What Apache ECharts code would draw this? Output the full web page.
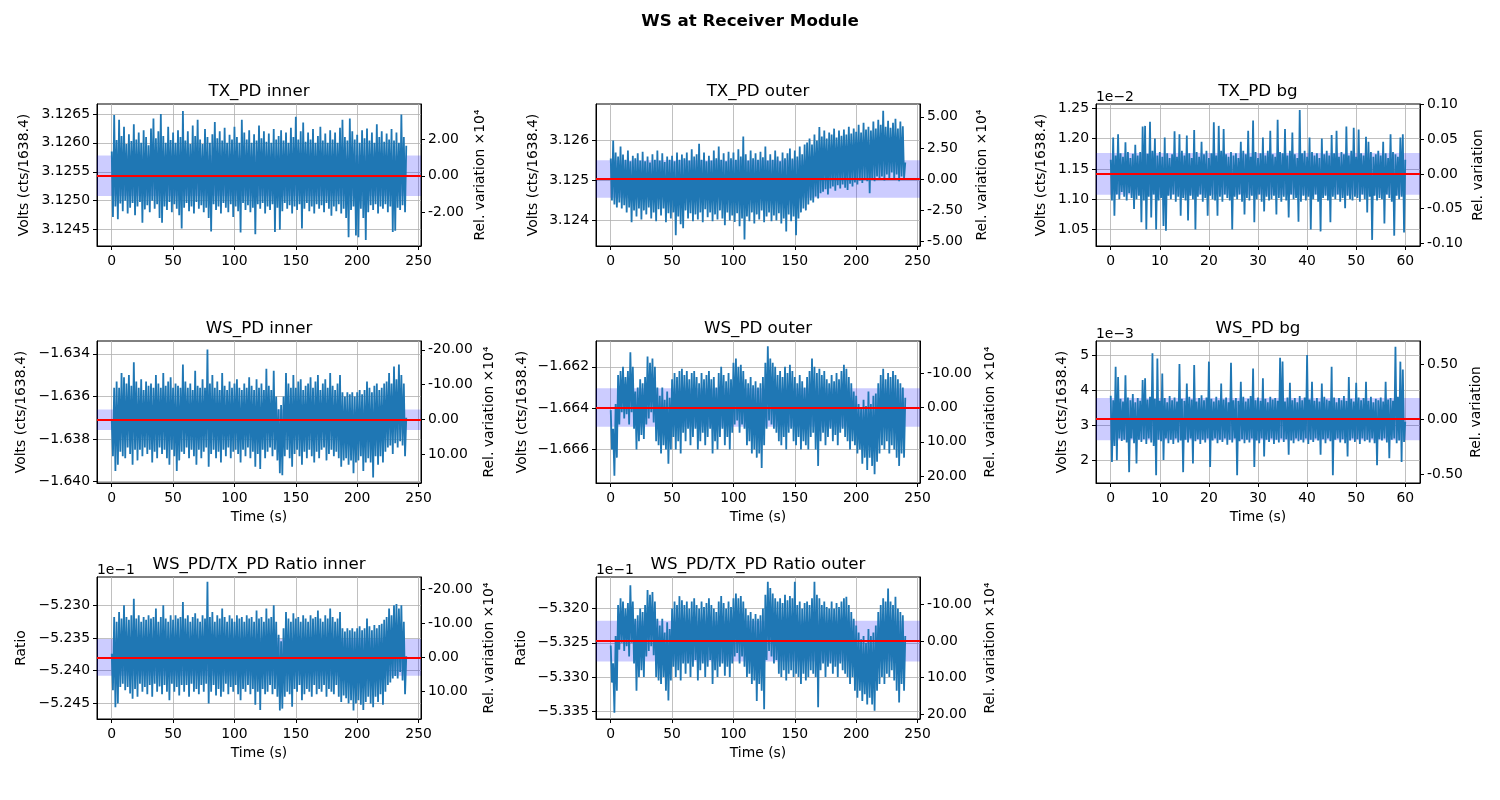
<!DOCTYPE html>
<html>
<head>
<meta charset="utf-8">
<script src="https://cdn.jsdelivr.net/npm/echarts@6.0.0/dist/echarts.min.js"></script>
<style>html,body{margin:0;padding:0;background:#fff}#chart{width:1500px;height:800px}</style>
</head>
<body>
<div id="chart"></div>
<script>
// ---------------- DATA ----------------
const figureTitle = 'WS at Receiver Module';
const panelTitles = ['TX_PD inner', 'TX_PD outer', 'TX_PD bg', 'WS_PD inner', 'WS_PD outer', 'WS_PD bg',
  'WS_PD/TX_PD Ratio inner', 'WS_PD/TX_PD Ratio outer'];
const leftNames = ['Volts (cts/1638.4)', 'Volts (cts/1638.4)', 'Volts (cts/1638.4)', 'Volts (cts/1638.4)',
  'Volts (cts/1638.4)', 'Volts (cts/1638.4)', 'Ratio', 'Ratio'];
const rightNames = ['Rel. variation ×10⁴', 'Rel. variation ×10⁴', 'Rel. variation', 'Rel. variation ×10⁴',
  'Rel. variation ×10⁴', 'Rel. variation', 'Rel. variation ×10⁴', 'Rel. variation ×10⁴'];
const xName = 'Time (s)';
// seconds between samples
const sampleStep = [1, 1, 0.25, 1, 1, 0.25, 1, 1];
// mean (red line) and std (band half width)
const meanValues = [3.12543, 3.125035, 0.011418, -1.63709, -1.66397, 0.003175, -0.523796, -0.532475];
const stdValues = [0.00035, 0.00047, 0.000345, 0.00048, 0.000934, 0.00061, 0.000281, 0.000298];
const relFactor = [1e4, 1e4, 1, 1e4, 1e4, 1, 1e4, 1e4];
// axis limits
const yMinValues = [3.124217, 3.123357, 0.010229, -1.640061, -1.667629, 0.001337, -0.524739, -0.533611];
const yMaxValues = [3.126672, 3.126918, 0.012571, -1.633401, -1.660751, 0.005424, -0.522566, -0.531541];
const xMinValues = [-12, -12, -3, -12, -12, -3, -12, -12];
const xMaxValues = [252, 252, 63, 252, 252, 63, 252, 252];
// tick values
const xTicksLong = [0, 50, 100, 150, 200, 250];
const xTicksShort = [0, 10, 20, 30, 40, 50, 60];
const leftTicks = [
  [3.1245, 3.125, 3.1255, 3.126, 3.1265],
  [3.124, 3.125, 3.126],
  [0.0105, 0.011, 0.0115, 0.012, 0.0125],
  [-1.640, -1.638, -1.636, -1.634],
  [-1.666, -1.664, -1.662],
  [0.002, 0.003, 0.004, 0.005],
  [-0.5245, -0.524, -0.5235, -0.523],
  [-0.5335, -0.533, -0.5325, -0.532]
];
const leftExponent = [0, 0, -2, 0, 0, -3, -1, -1];
const leftDecimals = [4, 3, 2, 3, 3, 0, 3, 3];
const rightTicks = [
  [-2, 0, 2],
  [-5, -2.5, 0, 2.5, 5],
  [-0.1, -0.05, 0, 0.05, 0.1],
  [-20, -10, 0, 10],
  [-10, 0, 10, 20],
  [-0.5, 0, 0.5],
  [-20, -10, 0, 10],
  [-10, 0, 10, 20]
];

const txInner = [
3.12585,3.12472,3.12648,3.12490,3.12605,3.12468,3.12640,3.12495,3.12612,3.12482,
3.12628,3.12500,3.12598,3.12478,3.12615,3.12488,3.12603,3.12496,3.12632,3.12475,
3.12606,3.12490,3.12618,3.12498,3.12600,3.12462,3.12622,3.12485,3.12610,3.12492,
3.12596,3.12480,3.12625,3.12500,3.12642,3.12486,3.12608,3.12494,3.12620,3.12470,
3.12650,3.12462,3.12612,3.12490,3.12600,3.12484,3.12628,3.12498,3.12605,3.12480,
3.12618,3.12494,3.12600,3.12486,3.12622,3.12475,3.12610,3.12452,3.12655,3.12488,
3.12604,3.12496,3.12620,3.12482,3.12598,3.12490,3.12630,3.12478,3.12612,3.12498,
3.12640,3.12486,3.12606,3.12492,3.12598,3.12480,3.12624,3.12488,3.12610,3.12470,
3.12600,3.12447,3.12615,3.12494,3.12636,3.12484,3.12608,3.12490,3.12620,3.12478,
3.12604,3.12496,3.12626,3.12488,3.12600,3.12480,3.12614,3.12494,3.12606,3.12472,
3.12628,3.12490,3.12610,3.12482,3.12600,3.12445,3.12640,3.12496,3.12618,3.12484,
3.12606,3.12492,3.12622,3.12480,3.12600,3.12488,3.12615,3.12442,3.12604,3.12494,
3.12630,3.12486,3.12608,3.12496,3.12620,3.12478,3.12602,3.12490,3.12616,3.12484,
3.12600,3.12494,3.12624,3.12446,3.12606,3.12488,3.12612,3.12450,3.12622,3.12482,
3.12604,3.12496,3.12618,3.12486,3.12600,3.12492,3.12626,3.12478,3.12610,3.12490,
3.12645,3.12484,3.12606,3.12494,3.12620,3.12452,3.12635,3.12486,3.12602,3.12496,
3.12618,3.12482,3.12606,3.12490,3.12624,3.12478,3.12600,3.12494,3.12612,3.12486,
3.12628,3.12492,3.12604,3.12480,3.12616,3.12496,3.12600,3.12486,3.12622,3.12474,
3.12606,3.12490,3.12618,3.12482,3.12600,3.12494,3.12626,3.12478,3.12640,3.12486,
3.12610,3.12470,3.12604,3.12437,3.12642,3.12484,3.12620,3.12490,3.12606,3.12440,
3.12614,3.12437,3.12600,3.12486,3.12622,3.12470,3.12608,3.12432,3.12625,3.12480,
3.12604,3.12492,3.12618,3.12484,3.12600,3.12494,3.12632,3.12478,3.12610,3.12490,
3.12620,3.12486,3.12602,3.12494,3.12616,3.12480,3.12606,3.12490,3.12624,3.12446,
3.12604,3.12448,3.12618,3.12488,3.12600,3.12484,3.12649,3.12492,3.12610,3.12480,
3.12595];

const txOuter = [
3.12555,3.12450,3.12600,3.12440,3.12570,3.12432,3.12560,3.12445,3.12585,3.12430,
3.12565,3.12438,3.12552,3.12420,3.12575,3.12432,3.12548,3.12395,3.12562,3.12425,
3.12556,3.12410,3.12568,3.12430,3.12550,3.12402,3.12572,3.12425,3.12548,3.12415,
3.12560,3.12432,3.12545,3.12405,3.12566,3.12420,3.12552,3.12398,3.12575,3.12428,
3.12550,3.12412,3.12568,3.12430,3.12546,3.12395,3.12560,3.12418,3.12552,3.12405,
3.12562,3.12420,3.12548,3.12363,3.12570,3.12410,3.12552,3.12390,3.12565,3.12380,
3.12556,3.12425,3.12570,3.12405,3.12550,3.12418,3.12578,3.12398,3.12560,3.12415,
3.12566,3.12402,3.12592,3.12420,3.12552,3.12395,3.12570,3.12428,3.12548,3.12408,
3.12562,3.12420,3.12550,3.12398,3.12575,3.12415,3.12556,3.12402,3.12585,3.12425,
3.12552,3.12405,3.12568,3.12388,3.12548,3.12420,3.12572,3.12400,3.12556,3.12412,
3.12570,3.12396,3.12552,3.12418,3.12578,3.12385,3.12560,3.12405,3.12610,3.12352,
3.12566,3.12410,3.12550,3.12398,3.12575,3.12420,3.12556,3.12392,3.12568,3.12415,
3.12552,3.12402,3.12572,3.12425,3.12558,3.12395,3.12585,3.12410,3.12550,3.12420,
3.12566,3.12398,3.12552,3.12412,3.12575,3.12400,3.12560,3.12418,3.12548,3.12392,
3.12570,3.12405,3.12556,3.12372,3.12568,3.12415,3.12580,3.12398,3.12555,3.12410,
3.12575,3.12363,3.12560,3.12405,3.12585,3.12420,3.12566,3.12430,3.12590,3.12425,
3.12595,3.12440,3.12605,3.12450,3.12590,3.12445,3.12615,3.12460,3.12600,3.12455,
3.12634,3.12468,3.12610,3.12472,3.12625,3.12478,3.12605,3.12465,3.12620,3.12480,
3.12615,3.12485,3.12630,3.12474,3.12608,3.12488,3.12625,3.12480,3.12612,3.12490,
3.12628,3.12482,3.12615,3.12476,3.12635,3.12492,3.12618,3.12485,3.12630,3.12495,
3.12622,3.12490,3.12640,3.12500,3.12620,3.12494,3.12645,3.12505,3.12628,3.12498,
3.12635,3.12468,3.12625,3.12505,3.12648,3.12498,3.12630,3.12510,3.12652,3.12502,
3.12640,3.12510,3.12675,3.12500,3.12635,3.12515,3.12650,3.12505,3.12632,3.12520,
3.12645,3.12502,3.12655,3.12515,3.12630,3.12498,3.12648,3.12510,3.12636,3.12505,
3.12545];

const txBg = [
0.01165,0.01098,0.01202,0.01073,0.01172,0.01108,0.01207,0.01100,0.01176,0.01112,
0.01170,0.01104,0.01194,0.01098,0.01178,0.01110,0.01168,0.01102,0.01175,0.01084,
0.01190,0.01100,0.01172,0.01106,0.01178,0.01062,0.01220,0.01098,0.01221,0.01050,
0.01175,0.01104,0.01228,0.01070,0.01180,0.01108,0.01200,0.01050,0.01172,0.01098,
0.01178,0.01102,0.01170,0.01056,0.01202,0.01048,0.01176,0.01106,0.01168,0.01100,
0.01174,0.01108,0.01212,0.01096,0.01170,0.01104,0.01207,0.01073,0.01180,0.01102,
0.01172,0.01098,0.01205,0.01065,0.01176,0.01106,0.01168,0.01100,0.01214,0.01050,
0.01178,0.01104,0.01170,0.01108,0.01195,0.01096,0.01174,0.01102,0.01180,0.01073,
0.01168,0.01106,0.01176,0.01100,0.01227,0.01098,0.01172,0.01073,0.01221,0.01104,
0.01180,0.01096,0.01216,0.01108,0.01174,0.01102,0.01170,0.01098,0.01178,0.01050,
0.01172,0.01104,0.01176,0.01100,0.01168,0.01108,0.01195,0.01096,0.01180,0.01075,
0.01174,0.01102,0.01213,0.01098,0.01170,0.01106,0.01230,0.01062,0.01178,0.01100,
0.01168,0.01108,0.01176,0.01096,0.01202,0.01080,0.01172,0.01104,0.01180,0.01098,
0.01213,0.01100,0.01174,0.01106,0.01170,0.01075,0.01231,0.01102,0.01178,0.01096,
0.01176,0.01104,0.01216,0.01098,0.01172,0.01070,0.01180,0.01108,0.01210,0.01100,
0.01174,0.01102,0.01168,0.01063,0.01247,0.01096,0.01176,0.01106,0.01180,0.01098,
0.01170,0.01104,0.01202,0.01050,0.01178,0.01100,0.01172,0.01108,0.01176,0.01096,
0.01168,0.01047,0.01200,0.01102,0.01174,0.01106,0.01180,0.01098,0.01172,0.01062,
0.01206,0.01104,0.01176,0.01100,0.01213,0.01108,0.01170,0.01096,0.01178,0.01102,
0.01174,0.01085,0.01220,0.01106,0.01172,0.01100,0.01180,0.01098,0.01218,0.01104,
0.01170,0.01102,0.01215,0.01096,0.01176,0.01108,0.01172,0.01100,0.01203,0.01078,
0.01195,0.01104,0.01178,0.01033,0.01170,0.01106,0.01174,0.01098,0.01180,0.01102,
0.01172,0.01100,0.01195,0.01060,0.01176,0.01108,0.01168,0.01102,0.01207,0.01096,
0.01178,0.01040,0.01174,0.01106,0.01170,0.01100,0.01202,0.01104,0.01207,0.01045,
0.01165];

const wsInner = [
-1.63710,-1.63880,-1.63560,-1.63950,-1.63530,-1.63920,-1.63560,-1.63860,-1.63490,-1.63880,
-1.63510,-1.63890,-1.63540,-1.63840,-1.63500,-1.63870,-1.63550,-1.63920,-1.63440,-1.63850,
-1.63530,-1.63900,-1.63560,-1.63850,-1.63520,-1.63880,-1.63570,-1.63840,-1.63530,-1.63870,
-1.63550,-1.63850,-1.63540,-1.63910,-1.63560,-1.63860,-1.63500,-1.63890,-1.63540,-1.63840,
-1.63560,-1.63870,-1.63490,-1.63850,-1.63550,-1.63890,-1.63530,-1.63920,-1.63510,-1.63850,
-1.63560,-1.63880,-1.63540,-1.63950,-1.63550,-1.63900,-1.63560,-1.63860,-1.63450,-1.63870,
-1.63530,-1.63840,-1.63560,-1.63890,-1.63540,-1.63850,-1.63570,-1.63880,-1.63480,-1.63920,
-1.63550,-1.63850,-1.63560,-1.63890,-1.63520,-1.63860,-1.63560,-1.63840,-1.63380,-1.63930,
-1.63540,-1.63870,-1.63500,-1.63850,-1.63560,-1.63890,-1.63530,-1.63860,-1.63570,-1.63910,
-1.63490,-1.63850,-1.63550,-1.63880,-1.63570,-1.63840,-1.63530,-1.63890,-1.63560,-1.63860,
-1.63540,-1.63850,-1.63520,-1.63870,-1.63560,-1.63910,-1.63570,-1.63850,-1.63540,-1.63880,
-1.63560,-1.63840,-1.63510,-1.63890,-1.63550,-1.63860,-1.63570,-1.63930,-1.63520,-1.63870,
-1.63560,-1.63940,-1.63540,-1.63850,-1.63570,-1.63890,-1.63470,-1.63860,-1.63550,-1.63840,
-1.63570,-1.63880,-1.63480,-1.63850,-1.63600,-1.63900,-1.63660,-1.63960,-1.63640,-1.63970,
-1.63600,-1.63880,-1.63490,-1.63850,-1.63540,-1.63890,-1.63560,-1.63930,-1.63500,-1.63870,
-1.63560,-1.63850,-1.63530,-1.63880,-1.63520,-1.63920,-1.63570,-1.63860,-1.63550,-1.63890,
-1.63540,-1.63850,-1.63510,-1.63880,-1.63560,-1.63910,-1.63530,-1.63860,-1.63500,-1.63890,
-1.63570,-1.63850,-1.63540,-1.63840,-1.63520,-1.63900,-1.63560,-1.63870,-1.63490,-1.63850,
-1.63550,-1.63880,-1.63570,-1.63860,-1.63540,-1.63890,-1.63500,-1.63930,-1.63580,-1.63900,
-1.63600,-1.63890,-1.63580,-1.63920,-1.63590,-1.63900,-1.63580,-1.63960,-1.63600,-1.63910,
-1.63580,-1.63900,-1.63570,-1.63880,-1.63590,-1.63950,-1.63570,-1.63910,-1.63530,-1.63890,
-1.63560,-1.63910,-1.63580,-1.63980,-1.63550,-1.63880,-1.63540,-1.63920,-1.63570,-1.63880,
-1.63560,-1.63910,-1.63540,-1.63860,-1.63530,-1.63840,-1.63490,-1.63830,-1.63540,-1.63870,
-1.63460,-1.63820,-1.63520,-1.63840,-1.63450,-1.63810,-1.63500,-1.63830,-1.63540,-1.63880,
-1.63700];

const wsOuter = [
-1.66410,-1.66600,-1.66500,-1.66728,-1.66380,-1.66640,-1.66240,-1.66480,-1.66220,-1.66420,
-1.66200,-1.66450,-1.66250,-1.66430,-1.66220,-1.66480,-1.66130,-1.66420,-1.66200,-1.66500,
-1.66320,-1.66600,-1.66300,-1.66560,-1.66260,-1.66530,-1.66280,-1.66550,-1.66250,-1.66480,
-1.66150,-1.66450,-1.66180,-1.66420,-1.66160,-1.66470,-1.66200,-1.66560,-1.66300,-1.66580,
-1.66340,-1.66620,-1.66300,-1.66580,-1.66360,-1.66600,-1.66320,-1.66670,-1.66350,-1.66600,
-1.66260,-1.66540,-1.66230,-1.66600,-1.66250,-1.66560,-1.66220,-1.66620,-1.66210,-1.66520,
-1.66240,-1.66560,-1.66220,-1.66500,-1.66260,-1.66580,-1.66230,-1.66540,-1.66220,-1.66500,
-1.66250,-1.66600,-1.66280,-1.66560,-1.66230,-1.66520,-1.66260,-1.66580,-1.66240,-1.66540,
-1.66220,-1.66500,-1.66260,-1.66620,-1.66250,-1.66560,-1.66300,-1.66600,-1.66230,-1.66540,
-1.66200,-1.66500,-1.66240,-1.66580,-1.66270,-1.66540,-1.66230,-1.66600,-1.66260,-1.66520,
-1.66180,-1.66480,-1.66160,-1.66460,-1.66200,-1.66520,-1.66190,-1.66480,-1.66220,-1.66500,
-1.66260,-1.66580,-1.66280,-1.66560,-1.66250,-1.66620,-1.66290,-1.66600,-1.66270,-1.66640,
-1.66300,-1.66620,-1.66280,-1.66690,-1.66250,-1.66580,-1.66180,-1.66500,-1.66100,-1.66460,
-1.66160,-1.66480,-1.66180,-1.66500,-1.66200,-1.66520,-1.66240,-1.66560,-1.66220,-1.66580,
-1.66250,-1.66540,-1.66200,-1.66600,-1.66230,-1.66520,-1.66190,-1.66500,-1.66220,-1.66560,
-1.66250,-1.66580,-1.66280,-1.66540,-1.66240,-1.66600,-1.66270,-1.66560,-1.66300,-1.66580,
-1.66250,-1.66600,-1.66220,-1.66540,-1.66160,-1.66520,-1.66200,-1.66600,-1.66230,-1.66680,
-1.66210,-1.66560,-1.66240,-1.66520,-1.66220,-1.66580,-1.66260,-1.66540,-1.66280,-1.66500,
-1.66240,-1.66560,-1.66270,-1.66530,-1.66230,-1.66580,-1.66260,-1.66520,-1.66220,-1.66500,
-1.66190,-1.66540,-1.66210,-1.66560,-1.66250,-1.66600,-1.66280,-1.66560,-1.66320,-1.66580,
-1.66340,-1.66620,-1.66380,-1.66600,-1.66400,-1.66670,-1.66360,-1.66640,-1.66390,-1.66700,
-1.66320,-1.66640,-1.66380,-1.66680,-1.66340,-1.66720,-1.66330,-1.66660,-1.66280,-1.66620,
-1.66240,-1.66580,-1.66210,-1.66600,-1.66260,-1.66560,-1.66230,-1.66620,-1.66250,-1.66580,
-1.66220,-1.66600,-1.66240,-1.66640,-1.66260,-1.66680,-1.66280,-1.66620,-1.66300,-1.66640,
-1.66350];

const wsBg = [
0.00385,0.00194,0.00372,0.00240,0.00468,0.00199,0.00439,0.00262,0.00376,0.00255,
0.00368,0.00258,0.00444,0.00250,0.00380,0.00165,0.00372,0.00262,0.00390,0.00248,
0.00366,0.00190,0.00378,0.00258,0.00370,0.00252,0.00430,0.00260,0.00435,0.00246,
0.00374,0.00262,0.00382,0.00250,0.00507,0.00240,0.00376,0.00156,0.00492,0.00258,
0.00370,0.00254,0.00449,0.00200,0.00378,0.00262,0.00366,0.00248,0.00384,0.00258,
0.00372,0.00246,0.00380,0.00262,0.00368,0.00250,0.00476,0.00256,0.00376,0.00165,
0.00370,0.00258,0.00420,0.00250,0.00382,0.00262,0.00374,0.00190,0.00473,0.00254,
0.00368,0.00260,0.00378,0.00246,0.00386,0.00258,0.00372,0.00250,0.00380,0.00262,
0.00483,0.00180,0.00376,0.00256,0.00368,0.00262,0.00382,0.00248,0.00372,0.00258,
0.00420,0.00252,0.00374,0.00262,0.00380,0.00244,0.00366,0.00258,0.00480,0.00250,
0.00372,0.00262,0.00378,0.00156,0.00370,0.00254,0.00425,0.00260,0.00382,0.00248,
0.00368,0.00258,0.00376,0.00250,0.00384,0.00262,0.00463,0.00180,0.00372,0.00256,
0.00380,0.00248,0.00370,0.00262,0.00435,0.00210,0.00376,0.00258,0.00366,0.00252,
0.00382,0.00262,0.00374,0.00246,0.00378,0.00258,0.00370,0.00250,0.00494,0.00262,
0.00483,0.00252,0.00368,0.00260,0.00380,0.00215,0.00422,0.00256,0.00372,0.00248,
0.00378,0.00262,0.00366,0.00254,0.00384,0.00258,0.00372,0.00250,0.00380,0.00262,
0.00502,0.00246,0.00374,0.00258,0.00425,0.00252,0.00370,0.00262,0.00378,0.00256,
0.00368,0.00215,0.00420,0.00260,0.00382,0.00248,0.00374,0.00262,0.00370,0.00254,
0.00468,0.00156,0.00380,0.00258,0.00366,0.00262,0.00378,0.00250,0.00372,0.00260,
0.00384,0.00248,0.00370,0.00210,0.00439,0.00256,0.00376,0.00262,0.00368,0.00252,
0.00422,0.00260,0.00380,0.00246,0.00372,0.00262,0.00378,0.00254,0.00425,0.00258,
0.00370,0.00250,0.00382,0.00262,0.00366,0.00248,0.00376,0.00185,0.00372,0.00260,
0.00380,0.00256,0.00368,0.00262,0.00425,0.00250,0.00374,0.00205,0.00378,0.00258,
0.00370,0.00262,0.00526,0.00248,0.00382,0.00256,0.00483,0.00194,0.00460,0.00252,
0.00310];

const ratioInner = [
-0.52374,-0.52430,-0.52318,-0.52456,-0.52325,-0.52450,-0.52310,-0.52425,-0.52320,-0.52420,
-0.52300,-0.52430,-0.52318,-0.52425,-0.52322,-0.52435,-0.52315,-0.52443,-0.52290,-0.52428,
-0.52320,-0.52440,-0.52315,-0.52420,-0.52325,-0.52432,-0.52318,-0.52425,-0.52322,-0.52436,
-0.52315,-0.52422,-0.52320,-0.52440,-0.52318,-0.52420,-0.52305,-0.52432,-0.52325,-0.52424,
-0.52318,-0.52436,-0.52300,-0.52422,-0.52320,-0.52432,-0.52325,-0.52445,-0.52315,-0.52420,
-0.52322,-0.52432,-0.52315,-0.52425,-0.52320,-0.52438,-0.52318,-0.52422,-0.52295,-0.52432,
-0.52320,-0.52422,-0.52315,-0.52440,-0.52325,-0.52420,-0.52318,-0.52432,-0.52312,-0.52428,
-0.52320,-0.52436,-0.52325,-0.52422,-0.52315,-0.52432,-0.52320,-0.52420,-0.52264,-0.52450,
-0.52318,-0.52432,-0.52310,-0.52422,-0.52325,-0.52438,-0.52315,-0.52428,-0.52320,-0.52440,
-0.52305,-0.52432,-0.52318,-0.52420,-0.52325,-0.52436,-0.52315,-0.52425,-0.52320,-0.52432,
-0.52325,-0.52422,-0.52315,-0.52436,-0.52320,-0.52445,-0.52318,-0.52428,-0.52325,-0.52432,
-0.52315,-0.52422,-0.52320,-0.52436,-0.52318,-0.52428,-0.52325,-0.52452,-0.52308,-0.52432,
-0.52320,-0.52460,-0.52318,-0.52428,-0.52325,-0.52436,-0.52305,-0.52432,-0.52320,-0.52422,
-0.52318,-0.52436,-0.52300,-0.52428,-0.52325,-0.52440,-0.52345,-0.52461,-0.52355,-0.52458,
-0.52335,-0.52440,-0.52310,-0.52432,-0.52320,-0.52436,-0.52325,-0.52455,-0.52312,-0.52428,
-0.52320,-0.52432,-0.52318,-0.52422,-0.52325,-0.52445,-0.52315,-0.52436,-0.52320,-0.52428,
-0.52325,-0.52432,-0.52315,-0.52440,-0.52320,-0.52422,-0.52318,-0.52436,-0.52308,-0.52428,
-0.52320,-0.52432,-0.52325,-0.52422,-0.52315,-0.52440,-0.52320,-0.52428,-0.52305,-0.52432,
-0.52318,-0.52436,-0.52325,-0.52422,-0.52320,-0.52440,-0.52310,-0.52448,-0.52335,-0.52438,
-0.52340,-0.52442,-0.52335,-0.52450,-0.52338,-0.52445,-0.52335,-0.52461,-0.52340,-0.52450,
-0.52335,-0.52445,-0.52332,-0.52452,-0.52338,-0.52460,-0.52335,-0.52448,-0.52320,-0.52440,
-0.52332,-0.52450,-0.52338,-0.52456,-0.52330,-0.52440,-0.52335,-0.52448,-0.52330,-0.52436,
-0.52328,-0.52452,-0.52322,-0.52432,-0.52318,-0.52422,-0.52305,-0.52418,-0.52315,-0.52412,
-0.52300,-0.52408,-0.52298,-0.52412,-0.52305,-0.52402,-0.52300,-0.52415,-0.52325,-0.52436,
-0.52378];

const ratioOuter = [
-0.53254,-0.53308,-0.53280,-0.53352,-0.53240,-0.53320,-0.53195,-0.53260,-0.53185,-0.53250,
-0.53190,-0.53262,-0.53200,-0.53255,-0.53192,-0.53270,-0.53166,-0.53250,-0.53190,-0.53280,
-0.53215,-0.53320,-0.53210,-0.53300,-0.53200,-0.53290,-0.53205,-0.53300,-0.53195,-0.53270,
-0.53173,-0.53262,-0.53180,-0.53255,-0.53176,-0.53268,-0.53190,-0.53300,-0.53215,-0.53305,
-0.53225,-0.53310,-0.53215,-0.53300,-0.53235,-0.53320,-0.53220,-0.53334,-0.53230,-0.53305,
-0.53200,-0.53285,-0.53190,-0.53300,-0.53195,-0.53290,-0.53182,-0.53305,-0.53188,-0.53280,
-0.53195,-0.53295,-0.53190,-0.53280,-0.53200,-0.53300,-0.53190,-0.53285,-0.53185,-0.53275,
-0.53195,-0.53305,-0.53200,-0.53290,-0.53190,-0.53280,-0.53198,-0.53300,-0.53192,-0.53285,
-0.53185,-0.53275,-0.53195,-0.53310,-0.53200,-0.53290,-0.53205,-0.53300,-0.53190,-0.53285,
-0.53182,-0.53280,-0.53192,-0.53298,-0.53200,-0.53285,-0.53190,-0.53300,-0.53198,-0.53280,
-0.53185,-0.53270,-0.53178,-0.53265,-0.53185,-0.53280,-0.53182,-0.53270,-0.53190,-0.53285,
-0.53200,-0.53300,-0.53210,-0.53295,-0.53205,-0.53310,-0.53215,-0.53305,-0.53208,-0.53335,
-0.53215,-0.53310,-0.53210,-0.53320,-0.53200,-0.53347,-0.53180,-0.53275,-0.53161,-0.53262,
-0.53170,-0.53270,-0.53178,-0.53280,-0.53185,-0.53275,-0.53190,-0.53295,-0.53185,-0.53300,
-0.53192,-0.53290,-0.53180,-0.53305,-0.53188,-0.53295,-0.53182,-0.53290,-0.53185,-0.53300,
-0.53161,-0.53295,-0.53195,-0.53300,-0.53190,-0.53310,-0.53200,-0.53295,-0.53192,-0.53305,
-0.53190,-0.53300,-0.53195,-0.53290,-0.53185,-0.53295,-0.53161,-0.53300,-0.53180,-0.53344,
-0.53185,-0.53290,-0.53195,-0.53280,-0.53190,-0.53300,-0.53198,-0.53285,-0.53200,-0.53280,
-0.53190,-0.53295,-0.53200,-0.53285,-0.53192,-0.53300,-0.53198,-0.53280,-0.53190,-0.53290,
-0.53185,-0.53295,-0.53183,-0.53300,-0.53195,-0.53310,-0.53205,-0.53300,-0.53215,-0.53320,
-0.53225,-0.53330,-0.53235,-0.53320,-0.53245,-0.53335,-0.53240,-0.53325,-0.53250,-0.53340,
-0.53230,-0.53330,-0.53240,-0.53340,-0.53235,-0.53349,-0.53225,-0.53320,-0.53205,-0.53310,
-0.53195,-0.53300,-0.53185,-0.53310,-0.53190,-0.53295,-0.53171,-0.53300,-0.53190,-0.53290,
-0.53195,-0.53305,-0.53183,-0.53320,-0.53200,-0.53337,-0.53205,-0.53310,-0.53210,-0.53320,
-0.53240];

const seriesValues = [txInner, txOuter, txBg, wsInner, wsOuter, wsBg, ratioInner, ratioOuter];

// ---------------- LAYOUT / STYLE ----------------
const FONT = '"DejaVu Sans", "Liberation Sans", sans-serif';
const colLeft = [97, 596, 1096];
const rowTop = [104, 341, 577];
const W = 324, H = 142;
const leftNameGap = [66, 56, 48, 69, 67, 27, 69, 68];
const rightNameGap = [52, 55, 51, 61, 63, 49, 61, 63];
const TICK_FS = 13.9, LABEL_FS = 13.9, TITLE_FS = 16.7;

const grids = [], xAxes = [], yAxes = [], series = [], graphics = [];

graphics.push({
  type: 'text', x: 750, y: 22, silent: true,
  style: { text: figureTitle, font: 'bold ' + TITLE_FS + 'px ' + FONT, fill: '#000',
    align: 'center', verticalAlign: 'middle', textAlign: 'center', textVerticalAlign: 'middle' }
});

function leftFmt(k) {
  return function (v) {
    const s = (v / Math.pow(10, leftExponent[k])).toFixed(leftDecimals[k]);
    return s.replace('-', '\u2212');
  };
}
function rightFmt(v) {
  if (Math.abs(v) < 1e-12) v = 0;
  return v.toFixed(2);
}

for (let k = 0; k < 8; k++) {
  const col = k % 3, row = Math.floor(k / 3);
  const left = colLeft[col], top = rowTop[row];
  const m = meanValues[k], s = stdValues[k], f = relFactor[k];
  const relLo = (yMinValues[k] - m) / m * f;
  const relHi = (yMaxValues[k] - m) / m * f;
  const xTicks = xMaxValues[k] > 100 ? xTicksLong : xTicksShort;

  grids.push({ left: left, top: top, width: W, height: H, show: true,
    borderColor: '#000', borderWidth: 1, backgroundColor: 'transparent' });

  xAxes.push({
    type: 'value', gridIndex: k, min: xMinValues[k], max: xMaxValues[k],
    axisLine: { show: true, onZero: false, lineStyle: { color: '#000', width: 1 } },
    axisTick: { show: true, length: 4, customValues: xTicks, lineStyle: { color: '#000' } },
    axisLabel: { customValues: xTicks, margin: 8, color: '#000', fontSize: TICK_FS, fontFamily: FONT },
    splitLine: { show: true, lineStyle: { color: '#b0b0b0', width: 0.8 } },
    name: row > 0 ? xName : '', nameLocation: 'middle', nameGap: 27,
    nameTextStyle: { color: '#000', fontSize: LABEL_FS, fontFamily: FONT }
  });

  yAxes.push({
    type: 'value', gridIndex: k, position: 'left', min: yMinValues[k], max: yMaxValues[k],
    axisLine: { show: true, onZero: false, lineStyle: { color: '#000', width: 1 } },
    axisTick: { show: true, length: 4, customValues: leftTicks[k], lineStyle: { color: '#000' } },
    axisLabel: { customValues: leftTicks[k], formatter: leftFmt(k), margin: 7, color: '#000',
      fontSize: TICK_FS, fontFamily: FONT },
    splitLine: { show: true, lineStyle: { color: '#b0b0b0', width: 0.8 } },
    name: leftNames[k], nameLocation: 'middle', nameGap: leftNameGap[k], nameRotate: 90,
    nameTextStyle: { color: '#000', fontSize: LABEL_FS, fontFamily: FONT }
  });

  yAxes.push({
    type: 'value', gridIndex: k, position: 'right',
    min: Math.min(relLo, relHi), max: Math.max(relLo, relHi), inverse: m < 0,
    axisLine: { show: true, onZero: false, lineStyle: { color: '#000', width: 1 } },
    axisTick: { show: true, length: 4, customValues: rightTicks[k], lineStyle: { color: '#000' } },
    axisLabel: { customValues: rightTicks[k], formatter: rightFmt, margin: 7, color: '#000',
      fontSize: TICK_FS, fontFamily: FONT },
    splitLine: { show: false },
    name: rightNames[k], nameLocation: 'middle', nameGap: rightNameGap[k], nameRotate: 90,
    nameTextStyle: { color: '#000', fontSize: LABEL_FS, fontFamily: FONT }
  });

  const dt = sampleStep[k];
  const pts = seriesValues[k].map((v, i) => [i * dt, v]);

  series.push({
    type: 'line', xAxisIndex: k, yAxisIndex: 2 * k, data: pts,
    showSymbol: false, symbol: 'none', silent: true, z: 2,
    lineStyle: { color: '#1f77b4', width: 1.8, join: 'bevel' },
    markArea: { silent: true, z: 1, itemStyle: { color: 'rgba(0,0,255,0.2)', borderWidth: 0 },
      label: { show: false },
      data: [[{ yAxis: m - s }, { yAxis: m + s }]] },
    markLine: { silent: true, z: 5, precision: 12, symbol: ['none', 'none'], label: { show: false },
      lineStyle: { color: '#ff0000', width: 2, type: 'solid' },
      data: [{ yAxis: m }] }
  });

  graphics.push({
    type: 'text', x: left + W / 2, y: top - 12, silent: true,
    style: { text: panelTitles[k], font: TITLE_FS + 'px ' + FONT, fill: '#000',
      align: 'center', verticalAlign: 'middle', textAlign: 'center', textVerticalAlign: 'middle' }
  });
  if (leftExponent[k] !== 0) {
    graphics.push({
      type: 'text', x: left, y: top, silent: true,
      style: { text: '1e\u2212' + (-leftExponent[k]), font: TICK_FS + 'px ' + FONT, fill: '#000',
        align: 'left', verticalAlign: 'bottom', textAlign: 'left', textVerticalAlign: 'bottom' }
    });
  }
}

const chart = echarts.init(document.getElementById('chart'), null, { renderer: 'canvas' });
chart.setOption({
  animation: false,
  backgroundColor: '#fff',
  textStyle: { fontFamily: FONT },
  grid: grids,
  xAxis: xAxes,
  yAxis: yAxes,
  series: series,
  graphic: graphics
});
</script>
</body>
</html>
